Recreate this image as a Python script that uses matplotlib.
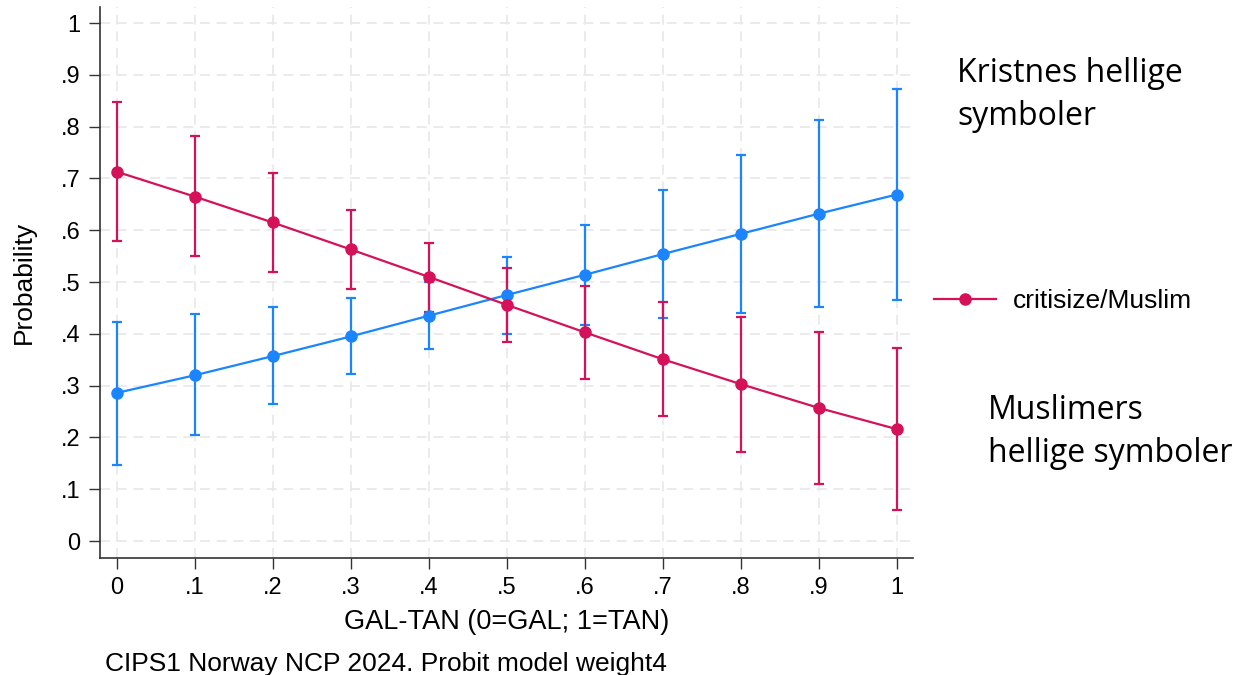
import numpy as np
import matplotlib
matplotlib.use("Agg")
import matplotlib.pyplot as plt
from matplotlib.lines import Line2D

# GAL-TAN values
x = [0, .1, .2, .3, .4, .5, .6, .7, .8, .9, 1]

# critisize/Christian (blue)
chr_p  = [0.286, 0.320, 0.357, 0.395, 0.435, 0.475, 0.514, 0.554, 0.593, 0.632, 0.669]
chr_lo = [0.147, 0.204, 0.264, 0.322, 0.370, 0.400, 0.418, 0.430, 0.440, 0.452, 0.465]
chr_hi = [0.423, 0.438, 0.451, 0.470, 0.501, 0.549, 0.610, 0.678, 0.746, 0.812, 0.873]

# critisize/Muslim (red)
mus_p  = [0.713, 0.665, 0.615, 0.563, 0.510, 0.456, 0.403, 0.351, 0.303, 0.257, 0.216]
mus_lo = [0.579, 0.550, 0.520, 0.486, 0.443, 0.384, 0.313, 0.241, 0.172, 0.111, 0.059]
mus_hi = [0.848, 0.782, 0.710, 0.639, 0.576, 0.528, 0.492, 0.462, 0.433, 0.403, 0.372]

xticks = [0, .1, .2, .3, .4, .5, .6, .7, .8, .9, 1]
xtick_labels = ["0", ".1", ".2", ".3", ".4", ".5", ".6", ".7", ".8", ".9", "1"]
yticks = [0, .1, .2, .3, .4, .5, .6, .7, .8, .9, 1]
ytick_labels = ["0", ".1", ".2", ".3", ".4", ".5", ".6", ".7", ".8", ".9", "1"]

blue = "#1A85FF"
red = "#D41159"

plt.rcParams['font.family'] = ['Liberation Sans', 'DejaVu Sans']

fig = plt.figure(figsize=(12.47, 6.75), dpi=100)
ax = fig.add_axes([0.0802, 0.1733, 0.652, 0.8163])

p = np.array(chr_p)
ax.errorbar(x, chr_p, yerr=[p - np.array(chr_lo), np.array(chr_hi) - p],
            fmt="none", ecolor=blue, elinewidth=1.6, capsize=3.4, capthick=1.6, zorder=2)
p = np.array(mus_p)
ax.errorbar(x, mus_p, yerr=[p - np.array(mus_lo), np.array(mus_hi) - p],
            fmt="none", ecolor=red, elinewidth=1.6, capsize=3.4, capthick=1.6, zorder=2)
ax.plot(x, chr_p, "-o", color=blue, lw=1.6, ms=8, zorder=3)
ax.plot(x, mus_p, "-o", color=red, lw=1.6, ms=8, zorder=4)

ax.set_xlim(-0.0214, 1.0209)
ax.set_ylim(-0.0328, 1.031)
ax.set_xticks(xticks)
ax.set_xticklabels(xtick_labels)
ax.set_yticks(yticks)
ax.set_yticklabels(ytick_labels)
ax.tick_params(axis="both", labelsize=17, length=8, width=1, color="#333333", pad=6)
ax.grid(color="#e8e8e8", linestyle=(0, (6, 4)), linewidth=1.2)
ax.set_axisbelow(True)
for s in ["top", "right"]:
    ax.spines[s].set_visible(False)
for s in ["left", "bottom"]:
    ax.spines[s].set_color("#333333")
    ax.spines[s].set_linewidth(1.2)

ax.set_ylabel("Probability", fontsize=19, labelpad=18)
ax.set_xlabel("GAL-TAN (0=GAL; 1=TAN)", fontsize=19.5, labelpad=7)

fig.text(105 / 1247, 1 - 671 / 675, "CIPS1 Norway NCP 2024. Probit model weight4",
         fontsize=19, va="baseline", ha="left")

# legend (only the Muslim entry shows)
handle = Line2D([], [], color=red, marker="o", lw=1.6, ms=8)
fig.legend([handle], ["critisize/Muslim"], loc="center left",
           bbox_to_anchor=(910 / 1247, 1 - 301 / 675), frameon=False,
           fontsize=19, handlelength=2.35, handletextpad=0.65)

fig.text(957 / 1247, 1 - 95 / 675, "Kristnes hellige\nsymboler", fontsize=23,
         family="Open Sans", va="center", ha="left", linespacing=1.37)
fig.text(988 / 1247, 1 - 432 / 675, "Muslimers\nhellige symboler", fontsize=23,
         family="Open Sans", va="center", ha="left", linespacing=1.37)

fig.savefig("out.png", dpi=100)
